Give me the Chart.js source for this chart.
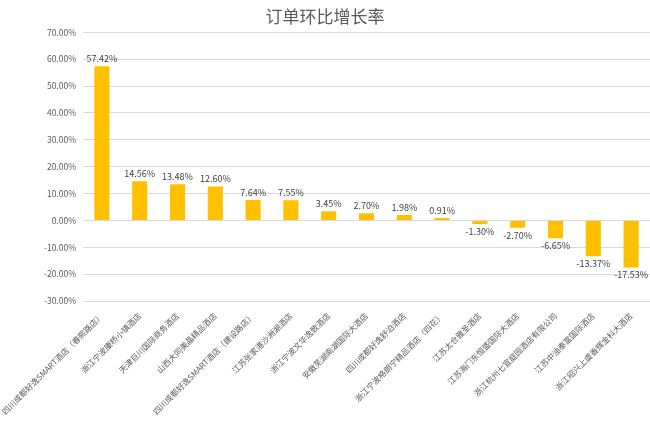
<!DOCTYPE html>
<html>
<head>
<meta charset="utf-8">
<script src="https://cdn.jsdelivr.net/npm/chart.js@4"></script>
<style>
    html, body { margin: 0; padding: 0; background: #fff; }
    #wrap { width: 650px; height: 422px; }
</style>
</head>
<body>
<div id="wrap"><canvas id="growth-chart" width="650" height="422"></canvas></div>
<script>
const hotels = [
    "四川成都好逸SMART酒店（春熙路店）",
    "浙江宁波康桥小镇酒店",
    "天津巨川国际商务酒店",
    "山西大同美晶精品酒店",
    "四川成都好逸SMART酒店（建设路店）",
    "江苏张家港沙洲湖酒店",
    "浙江宁波文华逸致酒店",
    "安徽芜湖南湖国际大酒店",
    "四川成都好逸舒泊酒店",
    "浙江宁波格朗宁精品酒店（四花）",
    "江苏太仓雅圣酒店",
    "江苏海门东恒盛国际大酒店",
    "浙江杭州七宣庭园酒店有限公司",
    "江苏中油泰富国际酒店",
    "浙江绍兴上虞香辉金科大酒店"
];
const growth_rates = [57.42, 14.56, 13.48, 12.60, 7.64, 7.55, 3.45, 2.70, 1.98, 0.91, -1.30, -2.70, -6.65, -13.37, -17.53];
const y_min = -30;
const y_max = 70;
const y_step = 10;

const font_family = "'Noto Sans CJK SC', 'Noto Sans', sans-serif";

// draws the percentage over (or under) each bar
const value_labels = {
    id: 'value_labels',
    afterDatasetsDraw(chart) {
        const ctx = chart.ctx;
        const meta = chart.getDatasetMeta(0);
        ctx.save();
        ctx.font = "9px " + font_family;
        ctx.fillStyle = '#404040';
        ctx.textAlign = 'center';
        meta.data.forEach((bar, i) => {
            const value = growth_rates[i];
            const text = value.toFixed(2) + '%';
            if (value >= 0) {
                ctx.textBaseline = 'bottom';
                ctx.fillText(text, bar.x, bar.y - 3);
            } else {
                ctx.textBaseline = 'top';
                ctx.fillText(text, bar.x, bar.y + 3);
            }
        });
        ctx.restore();
    }
};

new Chart(document.getElementById('growth-chart'), {
    type: 'bar',
    data: {
        labels: hotels,
        datasets: [{
            data: growth_rates,
            backgroundColor: '#FFC000',
            barPercentage: 0.4,
            categoryPercentage: 1
        }]
    },
    options: {
        responsive: false,
        animation: false,
        layout: { padding: 0 },
        plugins: {
            legend: { display: false },
            tooltip: { enabled: false },
            title: {
                display: true,
                text: '订单环比增长率',
                color: '#595959',
                font: { family: font_family, size: 17, weight: 'normal' },
                padding: { top: 6, bottom: 6 }
            }
        },
        scales: {
            x: {
                grid: { display: false },
                border: { display: false },
                afterFit: function (scale) {
                    scale.height = 121;
                    scale.paddingLeft = 0;
                    scale.paddingRight = 0;
                },
                ticks: {
                    autoSkip: false,
                    maxRotation: 45,
                    minRotation: 45,
                    padding: 2,
                    color: '#595959',
                    font: { family: font_family, size: 8.1 }
                }
            },
            y: {
                min: y_min,
                max: y_max,
                border: { display: false },
                grid: { color: '#d9d9d9', drawTicks: false },
                afterFit: function (scale) {
                    scale.width = 83;
                },
                ticks: {
                    stepSize: y_step,
                    padding: 7,
                    color: '#595959',
                    font: { family: font_family, size: 8.5 },
                    callback: function (value) {
                        return value.toFixed(2) + '%';
                    }
                }
            }
        }
    },
    plugins: [value_labels]
});
</script>
</body>
</html>
